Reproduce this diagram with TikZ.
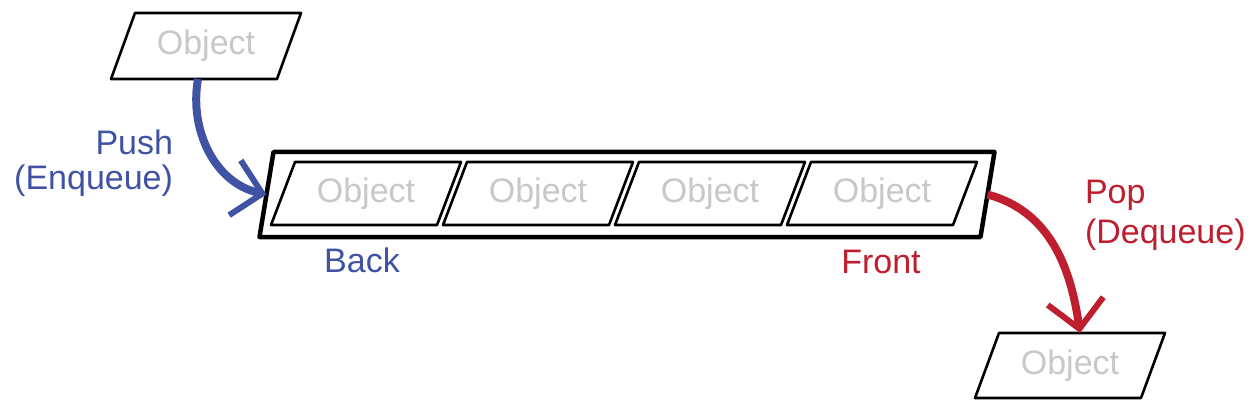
\documentclass[tikz,border=0pt]{standalone}
\usepackage{fontspec}
\setmainfont{Liberation Sans}
\usetikzlibrary{positioning,arrows.meta}
\definecolor{pushblue}{RGB}{63,82,163}
\definecolor{popred}{RGB}{190,30,45}
\definecolor{objgray}{RGB}{200,200,200}

\begin{document}
\begin{tikzpicture}
[x=1pt,y=-1pt,
 every node/.style={inner sep=0pt,outer sep=0pt,font=\fontsize{34}{35}\selectfont},
 obj/.style={rectangle,minimum width=166pt,minimum height=63pt,text=objgray},
 queue/.style={rectangle,minimum width=721pt,minimum height=85pt},
 outline/.style={draw=black,line width=2.6pt,line join=round},
 move/.style={line width=8pt,-{Straight Barb[length=28pt,width=56pt,line width=6pt]}}]
\useasboundingbox (0,0) rectangle (1254,409);
% the queue and what is in it
\node[queue] (q)  at (627,194.5)               {};
\node[obj]   (o1) at (366,193.5)               {Object};
\node[obj]   (o2) [on grid,right=172pt of o1]  {Object};
\node[obj]   (o3) [on grid,right=172pt of o2]  {Object};
\node[obj]   (o4) [on grid,right=172pt of o3]  {Object};
% incoming and outgoing objects
\node[obj,minimum height=66pt] (src) at (206,46)     {Object};
\node[obj,minimum height=65pt] (dst) at (1070,365.5) {Object};
% slanted outlines
\foreach \n in {src,o1,o2,o3,o4,dst}
  \draw[outline] ([xshift=-12pt]\n.south west) -- ([xshift=-12pt]\n.south east)
              -- ([xshift=12pt]\n.north east) -- ([xshift=12pt]\n.north west) -- cycle;
\draw[outline,line width=4.5pt] ([xshift=-7pt]q.south west) -- ([xshift=-7pt]q.south east)
              -- ([xshift=7pt]q.north east) -- ([xshift=7pt]q.north west) -- cycle;
% labels
\node[text=pushblue,align=right,anchor=north east] (push)  at (173,130)  {Push\\(Enqueue)};
\node[text=pushblue,anchor=base]                   (back)  at (362,272)  {Back};
\node[text=popred,anchor=base]                     (front) at (881,273)  {Front};
\node[text=popred,align=left,anchor=north west]    (pop)   at (1085,180) {Pop\\[5pt](Dequeue)};
% arrows
\draw[move,pushblue] ([xshift=-8pt]src.south) to[out=-100,in=168] (q.west);
\draw[move,popred]   (q.east)                 to[out=-15,in=98]   ([xshift=10pt]dst.north);
\end{tikzpicture}
\end{document}
